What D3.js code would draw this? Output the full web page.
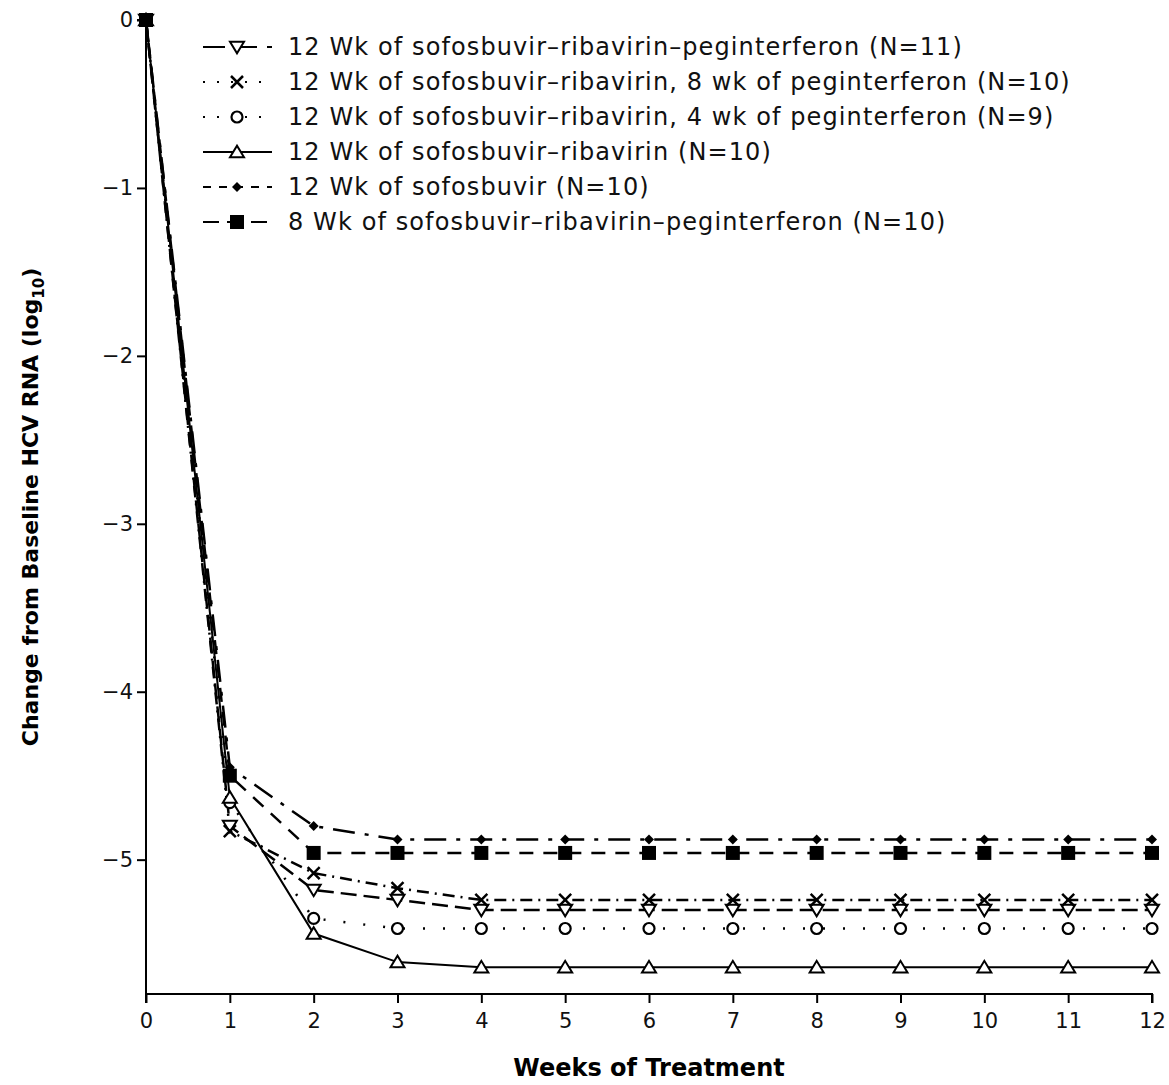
<!DOCTYPE html>
<html><head><meta charset="utf-8">
<script src="https://cdn.jsdelivr.net/npm/d3@7"></script>
<style>body{margin:0;background:#fff}svg{display:block}</style>
</head><body>
<script>
const weeks = [0,1,2,3,4,5,6,7,8,9,10,11,12];
const seriesNames = [
  "12 Wk of sofosbuvir\u2013ribavirin\u2013peginterferon (N=11)",
  "12 Wk of sofosbuvir\u2013ribavirin, 8 wk of peginterferon (N=10)",
  "12 Wk of sofosbuvir\u2013ribavirin, 4 wk of peginterferon (N=9)",
  "12 Wk of sofosbuvir\u2013ribavirin (N=10)",
  "12 Wk of sofosbuvir (N=10)",
  "8 Wk of sofosbuvir\u2013ribavirin\u2013peginterferon (N=10)"
];
const srpValues   = [0,-4.80,-5.18,-5.24,-5.30,-5.30,-5.30,-5.30,-5.30,-5.30,-5.30,-5.30,-5.30];
const srp8Values  = [0,-4.83,-5.08,-5.17,-5.24,-5.24,-5.24,-5.24,-5.24,-5.24,-5.24,-5.24,-5.24];
const srp4Values  = [0,-4.66,-5.35,-5.41,-5.41,-5.41,-5.41,-5.41,-5.41,-5.41,-5.41,-5.41,-5.41];
const srValues    = [0,-4.63,-5.44,-5.61,-5.64,-5.64,-5.64,-5.64,-5.64,-5.64,-5.64,-5.64,-5.64];
const sofValues   = [0,-4.45,-4.80,-4.88,-4.88,-4.88,-4.88,-4.88,-4.88,-4.88,-4.88,-4.88,-4.88];
const srp8wValues = [0,-4.50,-4.96,-4.96,-4.96,-4.96,-4.96,-4.96,-4.96,-4.96,-4.96,-4.96,-4.96];
const yTicks = [0,-1,-2,-3,-4,-5];
const xTicks = [0,1,2,3,4,5,6,7,8,9,10,11,12];
const xTitle = "Weeks of Treatment";
const yTitle = "Change from Baseline HCV RNA (log";

const series = [
  {name: seriesNames[0], values: srpValues,   marker:"tridown", dash:"16,7", legDash:"22,10"},
  {name: seriesNames[1], values: srp8Values,  marker:"x",       dash:"12,6,2,6", legDash:"2,12"},
  {name: seriesNames[2], values: srp4Values,  marker:"circle",  dash:"2,18", legDash:"2,12"},
  {name: seriesNames[3], values: srValues,    marker:"triup",   dash:null, legDash:null},
  {name: seriesNames[4], values: sofValues,   marker:"diamond", dash:"22,10,4,10", legDash:"8,8"},
  {name: seriesNames[5], values: srp8wValues, marker:"square",  dash:"14,10", legDash:"16,8"}
];

const W = 1169, H = 1085;
const svg = d3.select("body").append("svg").attr("width", W).attr("height", H)
  .style("font-family","'DejaVu Sans', sans-serif");

const x = d3.scaleLinear().domain([0,12]).range([146,1152]);
const y = d3.scaleLinear().domain([0,-5.8]).range([20,994]);

// axes
const yAxis = d3.axisLeft(y).tickValues(yTicks).tickSize(9).tickPadding(4)
  .tickFormat(d => d === 0 ? "0" : "\u2212" + Math.abs(d));
const gy = svg.append("g").attr("transform","translate(146,0)").call(yAxis);
const xAxis = d3.axisBottom(x).tickValues(xTicks).tickSize(9).tickPadding(10).tickFormat(d3.format("d"));
const gx = svg.append("g").attr("transform","translate(0,994)").call(xAxis);
[gx, gy].forEach(g => {
  g.select(".domain").attr("stroke","#000").attr("stroke-width",2);
  g.selectAll(".tick line").attr("stroke","#000").attr("stroke-width",2);
  g.selectAll(".tick text").attr("fill","#111").style("font-size","21px").style("font-family","'DejaVu Sans', sans-serif");
});
gy.select(".domain").attr("d", `M-9,${y(0)}H0V${y(-5.8)}`);
gx.select(".domain").attr("d", `M${x(0)},9V0H${x(12)}V9`);

// titles
svg.append("text").attr("x", (x(0)+x(12))/2).attr("y", 1076).attr("text-anchor","middle")
  .style("font-size","24px").style("font-weight","bold").text(xTitle);
const yt = svg.append("text").attr("transform",`translate(38,${(y(0)+y(-5.8))/2}) rotate(-90)`)
  .attr("text-anchor","middle").style("font-size","22px").style("font-weight","bold");
yt.append("tspan").text(yTitle);
yt.append("tspan").attr("dy",6).style("font-size","15px").text("10");
yt.append("tspan").attr("dy",-6).text(")");

// markers
function drawMarker(g, type, cx, cy) {
  const s = 7;
  if (type === "tridown") {
    g.append("path").attr("d", `M${cx-s},${cy-s*0.75}L${cx+s},${cy-s*0.75}L${cx},${cy+s*0.9}Z`)
      .attr("fill","#fff").attr("stroke","#000").attr("stroke-width",2);
  } else if (type === "triup") {
    g.append("path").attr("d", `M${cx-s},${cy+s*0.75}L${cx+s},${cy+s*0.75}L${cx},${cy-s*0.9}Z`)
      .attr("fill","#fff").attr("stroke","#000").attr("stroke-width",2);
  } else if (type === "x") {
    g.append("path").attr("d", `M${cx-6},${cy-6}L${cx+6},${cy+6}M${cx-6},${cy+6}L${cx+6},${cy-6}`)
      .attr("stroke","#000").attr("stroke-width",2.5);
  } else if (type === "circle") {
    g.append("circle").attr("cx",cx).attr("cy",cy).attr("r",5.5)
      .attr("fill","#fff").attr("stroke","#000").attr("stroke-width",2.2);
  } else if (type === "diamond") {
    g.append("path").attr("d", `M${cx},${cy-5}L${cx+5},${cy}L${cx},${cy+5}L${cx-5},${cy}Z`).attr("fill","#000");
  } else if (type === "square") {
    g.append("rect").attr("x",cx-7).attr("y",cy-7).attr("width",14).attr("height",14).attr("fill","#000");
  }
}

const line = d3.line().x((d,i) => x(weeks[i])).y(d => y(d));
const plot = svg.append("g");
series.forEach(s => {
  plot.append("path").datum(s.values).attr("d", line).attr("fill","none")
    .attr("stroke","#000").attr("stroke-width", s.dash ? 2.5 : 2)
    .attr("stroke-dasharray", s.dash);
});
series.forEach(s => {
  const g = plot.append("g");
  s.values.forEach((v,i) => drawMarker(g, s.marker, x(weeks[i]), y(v)));
});

// legend
const leg = svg.append("g");
series.forEach((s,i) => {
  const cy = 47 + i*35;
  leg.append("line").attr("x1",203).attr("x2",272).attr("y1",cy).attr("y2",cy)
    .attr("stroke","#000").attr("stroke-width",2).attr("stroke-dasharray", s.legDash);
  drawMarker(leg, s.marker, 237, cy);
  leg.append("text").attr("x",288).attr("y",cy).attr("dy","0.35em")
    .style("font-size","24px").style("letter-spacing","1.1px").attr("fill","#111").text(s.name);
});
</script>
</body></html>
